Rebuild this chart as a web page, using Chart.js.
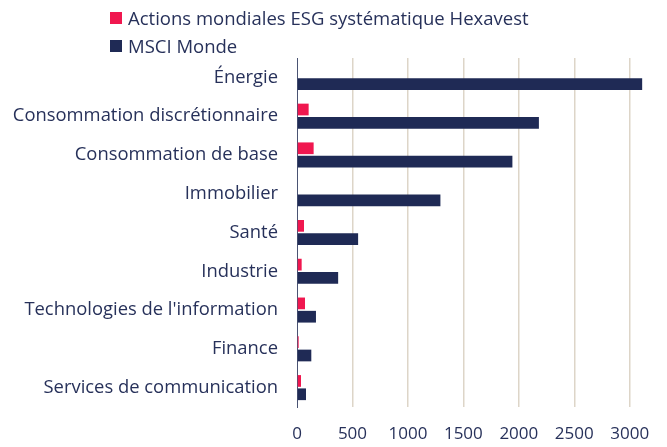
<!DOCTYPE html>
<html>
<head>
<meta charset="utf-8">
<script src="https://cdn.jsdelivr.net/npm/chart.js@4.4.1/dist/chart.umd.min.js"></script>
<style>
  html, body { margin: 0; padding: 0; background: #ffffff; }
  #wrap { position: relative; width: 667px; height: 447px; }
  #legend { position: absolute; left: 110px; top: 0; font-family: "Open Sans", sans-serif; font-size: 18.5px; color: #27315a; }
  .item { position: absolute; left: 0; white-space: nowrap; height: 28px; line-height: 28px; }
  .box { position: absolute; left: 0; width: 12px; height: 12px; }
  .txt { position: absolute; left: 18px; top: 0; }
</style>
</head>
<body>
<div id="wrap">
  <canvas id="c" width="667" height="447"></canvas>
  <div id="legend"></div>
</div>
<script>
const categories = ["Énergie", "Consommation discrétionnaire", "Consommation de base", "Immobilier", "Santé", "Industrie", "Technologies de l'information", "Finance", "Services de communication"];
const seriesNames = ["Actions mondiales ESG systématique Hexavest", "MSCI Monde"];
const esgValues = [0, 105, 150, 0, 63, 42, 72, 15, 36];
const msciValues = [3112, 2181, 1942, 1293, 551, 371, 171, 129, 81];
const tickValues = [0, 500, 1000, 1500, 2000, 2500, 3000];

const colors = ["#f0174f", "#1f2a55"];
const textColor = "#27315a";

// HTML legend
const legendEl = document.getElementById('legend');
seriesNames.forEach((name, i) => {
  const item = document.createElement('div');
  item.className = 'item';
  item.style.top = (4 + i * 28) + 'px';
  const box = document.createElement('div');
  box.className = 'box';
  box.style.background = colors[i];
  box.style.top = '8px';
  const t = document.createElement('div');
  t.className = 'txt';
  t.textContent = name;
  item.appendChild(box);
  item.appendChild(t);
  legendEl.appendChild(item);
});

new Chart(document.getElementById('c'), {
  type: 'bar',
  data: {
    labels: categories,
    datasets: [
      { label: seriesNames[0], data: esgValues, backgroundColor: colors[0], categoryPercentage: 0.687, barPercentage: 0.88 },
      { label: seriesNames[1], data: msciValues, backgroundColor: colors[1], categoryPercentage: 0.687, barPercentage: 0.88 }
    ]
  },
  options: {
    indexAxis: 'y',
    responsive: false,
    animation: false,
    layout: { padding: { top: 58, right: 13, bottom: 0, left: 0 } },
    plugins: { legend: { display: false }, tooltip: { enabled: false } },
    scales: {
      x: {
        min: 0,
        max: 3200,
        afterBuildTicks: (scale) => { scale.ticks = tickValues.map(v => ({ value: v })); },
        afterFit: (scale) => { scale.height = 40; },
        ticks: {
          includeBounds: false, padding: 17, color: textColor,
          font: { family: "Open Sans", size: 17 },
          callback: (v) => String(v)
        },
        grid: {
          drawTicks: false,
          lineWidth: 1.5,
          color: (ctx) => (ctx.tick && ctx.tick.value === 0) ? 'rgba(0,0,0,0)' : '#ddd5c8'
        },
        border: { display: false }
      },
      y: {
        afterFit: (scale) => { scale.width = 297; },
        ticks: { padding: 19, color: textColor, font: { family: "Open Sans", size: 18.4 } },
        grid: { display: false, drawTicks: false },
        border: { display: true, color: '#4a5373', width: 1 }
      }
    }
  }
});
</script>
</body>
</html>
